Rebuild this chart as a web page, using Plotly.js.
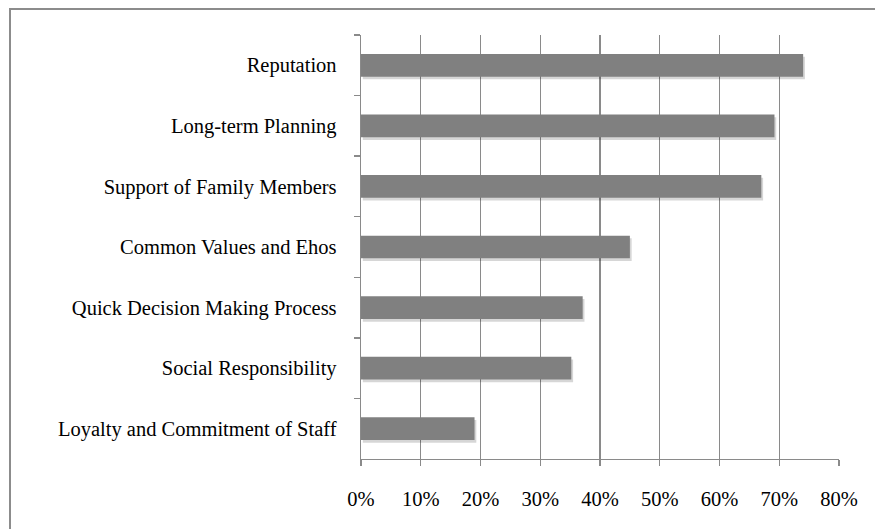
<!DOCTYPE html>
<html>
<head>
<meta charset="utf-8">
<script src="https://cdn.plot.ly/plotly-3.0.1.min.js"></script>
<style>html,body{margin:0;padding:0;background:#fff;}#chart{width:875px;height:529px;}</style>
</head>
<body>
<div id="chart"></div>
<script>
const categories = [
  "Reputation",
  "Long-term Planning",
  "Support of Family Members",
  "Common Values and Ehos",
  "Quick Decision Making Process",
  "Social Responsibility",
  "Loyalty and Commitment of Staff"
];
const values = [0.74, 0.692, 0.67, 0.45, 0.371, 0.352, 0.19];
const xTickValues = [0, 0.1, 0.2, 0.3, 0.4, 0.5, 0.6, 0.7, 0.8];

const gray = "#8a8a8a";
const font = {family: "Liberation Serif, Times New Roman, serif", size: 20.5, color: "#000"};

const barWidth = 0.375;
const traces = [
  {
    type: "bar", orientation: "h",
    y: categories, x: values,
    base: 0.003,
    width: barWidth, offset: -barWidth / 2 + 0.045,
    marker: {color: "rgba(0,0,0,0.16)", line: {width: 0}},
    hoverinfo: "skip"
  },
  {
    type: "bar", orientation: "h",
    y: categories, x: values,
    width: barWidth, offset: -barWidth / 2,
    marker: {color: "#808080", line: {width: 0}},
    hoverinfo: "x+y"
  }
];

const layout = {
  width: 875, height: 529,
  margin: {l: 361, r: 36, t: 35, b: 70, pad: 0},
  paper_bgcolor: "#fff", plot_bgcolor: "#fff",
  font: font,
  showlegend: false,
  barmode: "overlay",
  xaxis: {
    range: [0, 0.8],
    tickvals: xTickValues,
    tickformat: ".0%",
    showgrid: true, gridcolor: gray, gridwidth: 1.3,
    zeroline: false,
    showline: true, linecolor: gray, linewidth: 1.3,
    ticks: "outside", ticklen: 6, tickcolor: gray, tickwidth: 1.3,
    ticklabelstandoff: 15,
    tickfont: font,
    fixedrange: true
  },
  yaxis: {
    type: "category",
    autorange: "reversed",
    showgrid: false, zeroline: false,
    showline: true, linecolor: gray, linewidth: 1.3,
    ticks: "outside", tickson: "boundaries", ticklen: 6, tickcolor: gray, tickwidth: 1.3,
    ticklabelstandoff: 19,
    tickfont: font,
    fixedrange: true
  },
  shapes: [{
    type: "rect", xref: "paper", yref: "paper",
    x0: -351/(875-361-36), x1: 1.2,
    y0: -1, y1: 1 + 26/(529-35-70),
    line: {color: "#8c8c8c", width: 2}, fillcolor: "rgba(0,0,0,0)", layer: "below"
  }]
};

Plotly.newPlot("chart", traces, layout, {displayModeBar: false, staticPlot: true});
</script>
</body>
</html>
